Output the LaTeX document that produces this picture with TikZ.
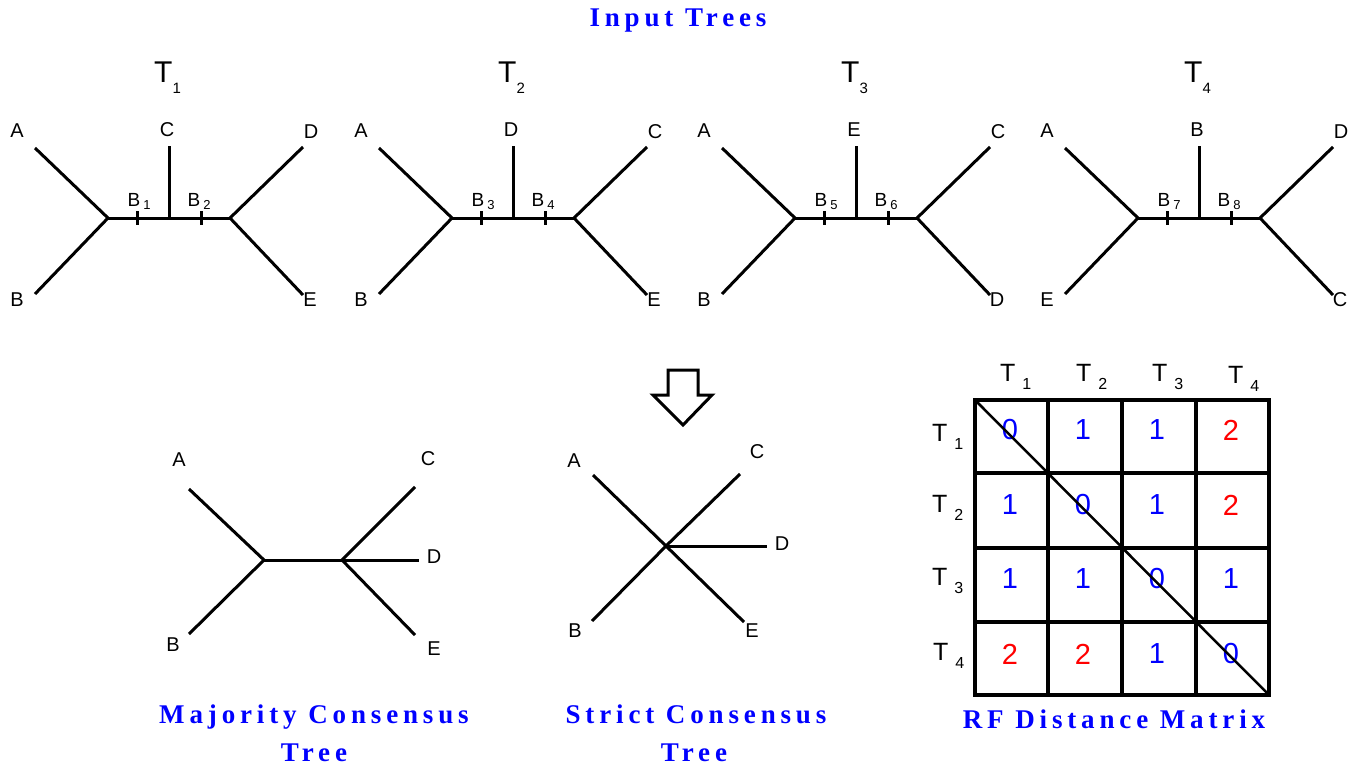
\documentclass[tikz,border=0pt]{standalone}
\usepackage{fontspec}
\setmainfont{Liberation Sans}
\newfontfamily\ttlfont[LetterSpace=18]{Liberation Serif}
\tikzset{
  br/.style={line width=3pt, line cap=butt},
  lbl/.style={inner sep=0, font=\fontsize{20}{20}\selectfont},
  blbl/.style={inner sep=0, anchor=base west, font=\fontsize{19}{19}\selectfont},
  tlbl/.style={inner sep=0, anchor=base west, font=\fontsize{30}{30}\selectfont},
  hlbl/.style={inner sep=0, anchor=base west, font=\fontsize{25}{25}\selectfont},
  ttl/.style={inner sep=0, anchor=base, text=blue, font=\fontsize{27}{27}\ttlfont\bfseries},
  num/.style={inner sep=0, font=\fontsize{29}{29}\selectfont},
  gridl/.style={line width=4pt, line cap=rect},
}
\newcommand\itree[8]{%
\begin{scope}[xshift=#1pt]
\coordinate (#2L) at (108,218);
\coordinate (#2R) at (230,218);
\coordinate (#2M) at (169,218);
\coordinate (#2Top) at (169,146);
\coordinate (#2A) at (35,148);
\coordinate (#2B) at (35,294);
\coordinate (#2D) at (303,147);
\coordinate (#2E) at (303,295);
\coordinate (#2k1a) at (137.5,211);
\coordinate (#2k1b) at (137.5,225);
\coordinate (#2k2a) at (201.5,211);
\coordinate (#2k2b) at (201.5,225);
\draw[br] (#2A) -- (#2L) -- (#2B);
\draw[br] (#2L) -- (#2R);
\draw[br] (#2M) -- (#2Top);
\draw[br] (#2D) -- (#2R) -- (#2E);
\draw[br] (#2k1a) -- (#2k1b);
\draw[br] (#2k2a) -- (#2k2b);
\node[lbl] (#2la) at (17,131) {A};
\node[lbl] (#2lb) at (17,300) {#6};
\node[lbl] (#2lt) at (167,130) {#3};
\node[lbl] (#2lrt) at (311,132) {#4};
\node[lbl] (#2lrb) at (310,300) {#5};
\node[blbl] (#2b1) at (127.5,207) {B\hspace{3pt}\raisebox{-2pt}{\fontsize{13}{13}\selectfont #7}};
\node[blbl] (#2b2) at (187.5,207) {B\hspace{3pt}\raisebox{-2pt}{\fontsize{13}{13}\selectfont #8}};
\node[tlbl] (#2t) at (154,83) {T\raisebox{-11pt}{\fontsize{15}{15}\selectfont #2}};
\end{scope}}
\newcommand\hdr[1]{T\hspace{7pt}\raisebox{-8pt}{\fontsize{16}{16}\selectfont #1}}
\begin{document}
\begin{tikzpicture}[x=1pt,y=-1pt]
\useasboundingbox (0,0) rectangle (1364,770);
% title
\node[ttl] (title) at (678,27) {Input Trees};
% input trees
\itree{0}{1}{C}{D}{E}{B}{1}{2}
\itree{344}{2}{D}{C}{E}{B}{3}{4}
\itree{687}{3}{E}{C}{D}{B}{5}{6}
\itree{1030}{4}{B}{D}{C}{E}{7}{8}
% hollow arrow
\draw[line width=3pt, line join=miter] (668,370) -- (698,370) -- (698,395) -- (712,395) -- (683,425) -- (653,395) -- (668,395) -- cycle;
% majority consensus tree
\coordinate (mL) at (264,560);
\coordinate (mR) at (342,560);
\coordinate (mA) at (189,489);
\coordinate (mB) at (189,634);
\coordinate (mC) at (415,487);
\coordinate (mD) at (419,560);
\coordinate (mE) at (415,635);
\draw[br] (mA) -- (mL) -- (mB);
\draw[br] (mL) -- (mR);
\draw[br] (mC) -- (mR) -- (mE);
\draw[br] (mR) -- (mD);
\node[lbl] (mlA) at (179,460) {A};
\node[lbl] (mlB) at (173,645) {B};
\node[lbl] (mlC) at (428,459) {C};
\node[lbl] (mlD) at (434,557) {D};
\node[lbl] (mlE) at (434,649) {E};
% strict consensus tree
\coordinate (sO) at (666,546);
\coordinate (sA) at (593,475);
\coordinate (sC) at (740,474);
\coordinate (sD) at (767,546);
\coordinate (sB) at (592,621);
\coordinate (sE) at (744,622);
\draw[br] (sA) -- (sO) -- (sE);
\draw[br] (sB) -- (sO) -- (sC);
\draw[br] (sO) -- (sD);
\node[lbl] (slA) at (574,461) {A};
\node[lbl] (slC) at (757,452) {C};
\node[lbl] (slD) at (782,544) {D};
\node[lbl] (slB) at (575,631) {B};
\node[lbl] (slE) at (752,631) {E};
% captions
\node[ttl] (cap1) at (314,723) {Majority Consensus};
\node[ttl] (cap1b) at (314,761) {Tree};
\node[ttl] (cap2) at (696,723) {Strict Consensus};
\node[ttl] (cap2b) at (694,761) {Tree};
\node[ttl] (cap3) at (1114,728) {RF Distance Matrix};
% matrix
\coordinate (g00) at (975,400);
\coordinate (g44) at (1269,695);
\foreach \xx in {1048,1122,1196} \draw[gridl] (\xx,400) -- (\xx,695);
\foreach \yy in {473,548,622} \draw[gridl] (975,\yy) -- (1269,\yy);
\draw[gridl] (g00) rectangle (g44);
% headers
\node[hlbl] (ch1) at (1000,381) {\hdr{1}};
\node[hlbl] (ch2) at (1076,381) {\hdr{2}};
\node[hlbl] (ch3) at (1152,381) {\hdr{3}};
\node[hlbl] (ch4) at (1228,383) {\hdr{4}};
\node[hlbl] (rh1) at (932,441) {\hdr{1}};
\node[hlbl] (rh2) at (932,512) {\hdr{2}};
\node[hlbl] (rh3) at (932,585) {\hdr{3}};
\node[hlbl] (rh4) at (933,660) {\hdr{4}};
% numbers
\node[num,text=blue] (n11) at (1010,430) {0};
\node[num,text=blue] (n12) at (1083,430) {1};
\node[num,text=blue] (n13) at (1157,430) {1};
\node[num,text=red]  (n14) at (1231,430) {2};
\node[num,text=blue] (n21) at (1010,505) {1};
\node[num,text=blue] (n22) at (1083,505) {0};
\node[num,text=blue] (n23) at (1157,505) {1};
\node[num,text=red]  (n24) at (1231,505) {2};
\node[num,text=blue] (n31) at (1010,579) {1};
\node[num,text=blue] (n32) at (1083,579) {1};
\node[num,text=blue] (n33) at (1157,579) {0};
\node[num,text=blue] (n34) at (1231,579) {1};
\node[num,text=red]  (n41) at (1010,654) {2};
\node[num,text=red]  (n42) at (1083,654) {2};
\node[num,text=blue] (n43) at (1157,654) {1};
\node[num,text=blue] (n44) at (1231,654) {0};
\draw[line width=2.5pt] (g00) -- (g44);
\end{tikzpicture}
\end{document}
